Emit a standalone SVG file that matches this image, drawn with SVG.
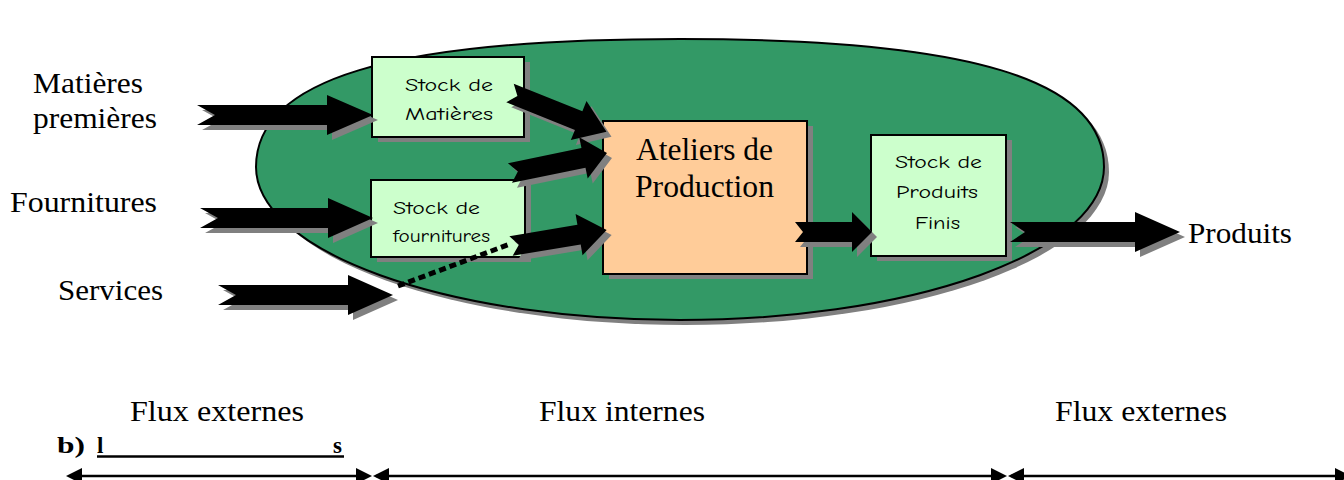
<svg xmlns="http://www.w3.org/2000/svg" xmlns:xlink="http://www.w3.org/1999/xlink" width="1344" height="480" viewBox="0 0 1344 480">
<style>
.sh{fill:#808080}
.ar{fill:#000}
.box{fill:#CCFFCC;stroke:#000;stroke-width:2}
.bsh{fill:#808080}
.tnr{font-family:"Liberation Serif","Times New Roman",serif;fill:#000}
.cs{font-family:"Comic Sans MS","Comic Neue","DejaVu Sans",sans-serif;font-size:18px;fill:#000}
.ln{stroke:#000;stroke-width:2.5;fill:none}
</style>
<defs>
<path id="ell" d="M256,167 C256,80 388,39 680,39 C972,39 1104,80 1104,167 A424,153 0 0 1 256,167 Z"/>
<path id="aMat" transform="translate(197,115)" d="M0,-10 L130,-10 L130,-20 L176,0 L130,20 L130,10 L0,10 L18,0 Z"/>
<path id="aFou" transform="translate(200,218)" d="M0,-10 L128,-10 L128,-20 L173,0 L128,20 L128,10 L0,10 L18,0 Z"/>
<path id="aSer" transform="translate(218,295)" d="M0,-10 L130,-10 L130,-20 L175,0 L130,20 L130,10 L0,10 L18,0 Z"/>
<path id="aA1" transform="translate(510,93) rotate(21.9)" d="M0,-10 L74,-10 L74,-21 L104,0 L74,21 L74,10 L0,10 L8,0 Z"/>
<path id="aA2" transform="translate(510,173) rotate(-11.6)" d="M0,-10 L75,-10 L75,-21 L99,0 L75,21 L75,10 L0,10 L8,0 Z"/>
<path id="aA3" transform="translate(511,246) rotate(-9.5)" d="M0,-10 L69,-10 L69,-21 L97,0 L69,21 L69,10 L0,10 L8,0 Z"/>
<path id="aAP" transform="translate(795,232)" d="M0,-10 L57,-10 L57,-20 L77,0 L57,20 L57,10 L0,10 L8,0 Z"/>
<path id="aPro" transform="translate(1010,232)" d="M0,-10 L125,-10 L125,-20 L170,0 L125,20 L125,10 L0,10 L15,0 Z"/>
<path id="hd" d="M0,0 L16,-8 L16,8 Z"/>
</defs>

<g id="enterprise">
<use xlink:href="#ell" fill="#808080" transform="translate(5,5)"/>
<use xlink:href="#ell" fill="#339966" stroke="#000" stroke-width="2"/>
</g>

<g id="stock-matieres">
<rect class="bsh" x="378" y="62" width="152" height="80"/>
<rect class="box" x="372" y="57" width="152" height="80"/>
<text class="cs" x="405" y="91" textLength="88" lengthAdjust="spacingAndGlyphs">Stock de</text>
<text class="cs" x="405" y="120" textLength="88" lengthAdjust="spacingAndGlyphs">Matières</text>
</g>

<g id="stock-fournitures">
<rect class="bsh" x="377" y="185" width="154" height="77"/>
<rect class="box" x="371" y="180" width="154" height="77"/>
<text class="cs" x="393" y="214" textLength="87" lengthAdjust="spacingAndGlyphs">Stock de</text>
<text class="cs" x="393" y="242" textLength="97" lengthAdjust="spacingAndGlyphs">fournitures</text>
</g>

<g id="ateliers">
<rect class="bsh" x="609" y="126" width="204" height="153"/>
<rect x="603" y="121" width="204" height="153" fill="#FFCC99" stroke="#000" stroke-width="2"/>
<text class="tnr" font-family="Liberation Serif, serif" x="636" y="160" font-size="31" textLength="137" lengthAdjust="spacingAndGlyphs">Ateliers de</text>
<text class="tnr" font-family="Liberation Serif, serif" x="635" y="197" font-size="31" textLength="139" lengthAdjust="spacingAndGlyphs">Production</text>
</g>

<g id="stock-produits">
<rect class="bsh" x="877" y="140" width="135" height="121"/>
<rect class="box" x="871" y="135" width="135" height="121"/>
<text class="cs" x="895" y="168" textLength="87" lengthAdjust="spacingAndGlyphs">Stock de</text>
<text class="cs" x="896" y="198" textLength="82" lengthAdjust="spacingAndGlyphs">Produits</text>
<text class="cs" x="915" y="229" textLength="45" lengthAdjust="spacingAndGlyphs">Finis</text>
</g>

<g id="connectors">
<line x1="398" y1="286" x2="510" y2="244" stroke="#000" stroke-width="5" stroke-dasharray="7 4"/>
<use xlink:href="#aMat" class="sh" transform="translate(5,5)"/>
<use xlink:href="#aMat" class="ar"/>
<use xlink:href="#aFou" class="sh" transform="translate(5,5)"/>
<use xlink:href="#aFou" class="ar"/>
<use xlink:href="#aSer" class="sh" transform="translate(5,5)"/>
<use xlink:href="#aSer" class="ar"/>
<use xlink:href="#aA1" class="sh" transform="translate(5,5)"/>
<use xlink:href="#aA1" class="ar"/>
<use xlink:href="#aA2" class="sh" transform="translate(5,5)"/>
<use xlink:href="#aA2" class="ar"/>
<use xlink:href="#aA3" class="sh" transform="translate(5,5)"/>
<use xlink:href="#aA3" class="ar"/>
<use xlink:href="#aAP" class="sh" transform="translate(5,5)"/>
<use xlink:href="#aAP" class="ar"/>
<use xlink:href="#aPro" class="sh" transform="translate(5,5)"/>
<use xlink:href="#aPro" class="ar"/>
</g>

<g id="labels">
<text class="tnr" font-family="Liberation Serif, serif" x="33" y="93" font-size="29" textLength="110" lengthAdjust="spacingAndGlyphs">Matières</text>
<text class="tnr" font-family="Liberation Serif, serif" x="33" y="128" font-size="29" textLength="124" lengthAdjust="spacingAndGlyphs">premières</text>
<text class="tnr" font-family="Liberation Serif, serif" x="10" y="212" font-size="29" textLength="147" lengthAdjust="spacingAndGlyphs">Fournitures</text>
<text class="tnr" font-family="Liberation Serif, serif" x="58" y="300" font-size="29" textLength="105" lengthAdjust="spacingAndGlyphs">Services</text>
<text class="tnr" font-family="Liberation Serif, serif" x="1188" y="243" font-size="29" textLength="104" lengthAdjust="spacingAndGlyphs">Produits</text>
</g>

<g id="flux">
<text class="tnr" x="130" y="421" font-size="29" textLength="174" lengthAdjust="spacingAndGlyphs">Flux externes</text>
<text class="tnr" x="539" y="421" font-size="29" textLength="166" lengthAdjust="spacingAndGlyphs">Flux internes</text>
<text class="tnr" x="1055" y="421" font-size="29" textLength="172" lengthAdjust="spacingAndGlyphs">Flux externes</text>
<text class="tnr" x="57" y="453" font-size="23" font-weight="bold" textLength="28" lengthAdjust="spacingAndGlyphs">b)</text>
<text class="tnr" x="97" y="453" font-size="23" font-weight="bold">l</text>
<text class="tnr" x="333" y="453" font-size="23" font-weight="bold">s</text>
<line x1="97" y1="456.5" x2="344" y2="456.5" stroke="#000" stroke-width="2.5"/>
<line class="ln" x1="70" y1="476" x2="368" y2="476"/>
<line class="ln" x1="376" y1="476" x2="1003" y2="476"/>
<line class="ln" x1="1011" y1="476" x2="1344" y2="476"/>
<use xlink:href="#hd" transform="translate(66,476)"/>
<use xlink:href="#hd" transform="translate(372,476) rotate(180)"/>
<use xlink:href="#hd" transform="translate(373,476)"/>
<use xlink:href="#hd" transform="translate(1007,476) rotate(180)"/>
<use xlink:href="#hd" transform="translate(1008,476)"/>
<use xlink:href="#hd" transform="translate(1351,476) rotate(180)"/>
</g>
</svg>
